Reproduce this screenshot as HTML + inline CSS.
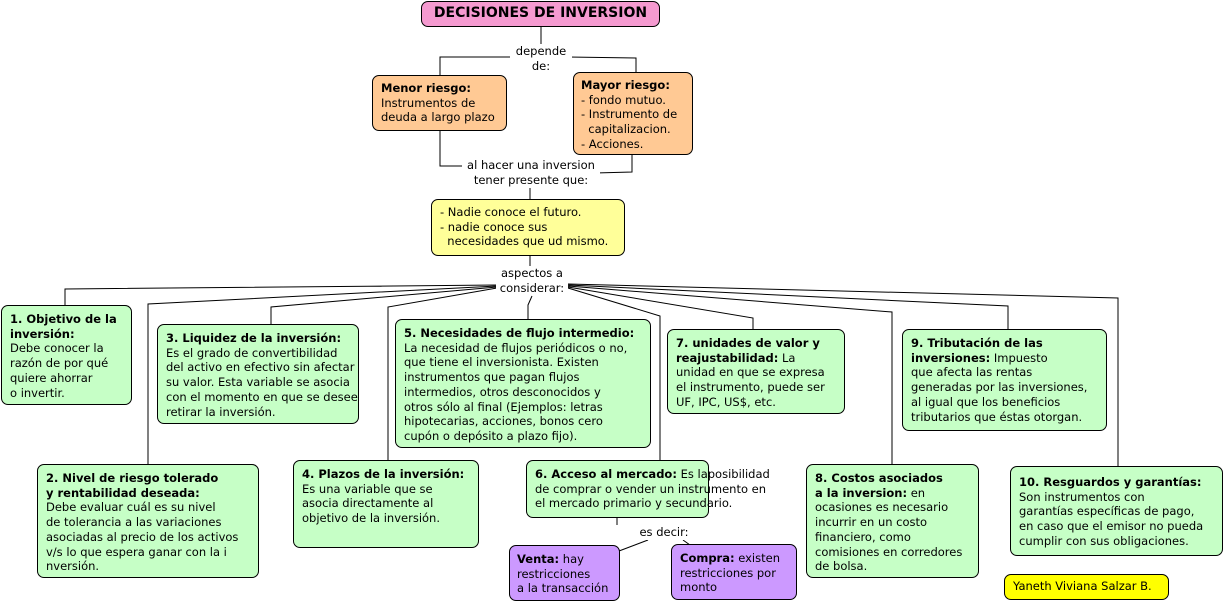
<!DOCTYPE html>
<html><head><meta charset="utf-8"><style>
body{margin:0;width:1226px;height:603px;background:#fff;position:relative;overflow:hidden;font-family:"DejaVu Sans","Liberation Sans",sans-serif;font-size:11.5px;line-height:14.7px;color:#000}
.b{position:absolute;box-sizing:border-box;border:1px solid #000;border-radius:7px;padding:6px 8px;background:#c6ffc6;white-space:nowrap}
.o{background:#ffc994}.y{background:#ffff99}.p{background:#cc99ff}
.t{position:absolute;text-align:center;background:#fff;white-space:nowrap}
b{font-weight:bold}
svg{position:absolute;left:0;top:0}
</style></head><body>
<svg width="1226" height="603" fill="none" stroke="#000" stroke-width="1">
<path d="M541 27V45"/>
<path d="M515 57H440V76M568 57L636 58V72"/>
<path d="M440 131V166H463M632 155V172L595 173"/>
<path d="M530 188V199M530 256V266"/>
<path d="M497 285L65 289V305M497 286L148 304V464M497 287L271 307V324M497 288L388 307V460M532 296L528 305V319"/>
<path d="M568 284L1118 298V466M568 285L1008 306V329M568 286L892 312V464M568 287L753 318V329M568 288L660 316V460"/>
<path d="M617 517V525M619 551L648 540M683 540L690 545"/>
</svg>
<div class="b" style="left:421px;top:1px;width:239px;height:26px;background:#f59ad0;font-weight:bold;font-size:14px;text-align:center;padding:4px 0">DECISIONES DE INVERSION</div>
<div class="t" style="left:510px;top:44px;width:62px">depende<br>de:</div>
<div class="b o" style="left:372px;top:75px;width:135px;height:56px;padding:5px 8px"><b>Menor riesgo:</b><br>Instrumentos de<br>deuda a largo plazo</div>
<div class="b o" style="left:573px;top:72px;width:120px;height:83px;padding:5px 7px"><b>Mayor riesgo:</b><br>- fondo mutuo.<br>- Instrumento de<br>&nbsp; capitalizacion.<br>- Acciones.</div>
<div class="t" style="left:462px;top:158px;width:138px">al hacer una inversion<br>tener presente que:</div>
<div class="b y" style="left:431px;top:199px;width:194px;height:57px;padding:5px 8px">- Nadie conoce el futuro.<br>- nadie conoce sus<br>&nbsp; necesidades que ud mismo.</div>
<div class="t" style="left:496px;top:266px;width:72px">aspectos a<br>considerar:</div>
<div class="b" style="left:1px;top:305px;width:131px;height:100px"><b>1. Objetivo de la<br>inversión:</b><br>Debe conocer la<br>razón de por qué<br>quiere ahorrar<br>o invertir.</div>
<div class="b" style="left:157px;top:324px;width:202px;height:100px"><b>3. Liquidez de la inversión:</b><br>Es el grado de convertibilidad<br>del activo en efectivo sin afectar<br>su valor. Esta variable se asocia<br>con el momento en que se desee<br>retirar la inversión.</div>
<div class="b" style="left:395px;top:319px;width:256px;height:129px"><b>5. Necesidades de flujo intermedio:</b><br>La necesidad de flujos periódicos o no,<br>que tiene el inversionista. Existen<br>instrumentos que pagan flujos<br>intermedios, otros desconocidos y<br>otros sólo al final (Ejemplos: letras<br>hipotecarias, acciones, bonos cero<br>cupón o depósito a plazo fijo).</div>
<div class="b" style="left:667px;top:329px;width:178px;height:85px"><b>7. unidades de valor y<br>reajustabilidad:</b> La<br>unidad en que se expresa<br>el instrumento, puede ser<br>UF, IPC, US$, etc.</div>
<div class="b" style="left:902px;top:329px;width:205px;height:102px"><b>9. Tributación de las<br>inversiones:</b> Impuesto<br>que afecta las rentas<br>generadas por las inversiones,<br>al igual que los beneficios<br>tributarios que éstas otorgan.</div>
<div class="b" style="left:37px;top:464px;width:222px;height:114px"><b>2. Nivel de riesgo tolerado<br>y rentabilidad deseada:</b><br>Debe evaluar cuál es su nivel<br>de tolerancia a las variaciones<br>asociadas al precio de los activos<br>v/s lo que espera ganar con la i<br>nversión.</div>
<div class="b" style="left:293px;top:460px;width:186px;height:88px"><b>4. Plazos de la inversión:</b><br>Es una variable que se<br>asocia directamente al<br>objetivo de la inversión.</div>
<div class="b" style="left:526px;top:460px;width:183px;height:58px"><b>6. Acceso al mercado:</b> Es laposibilidad<br>de comprar o vender un instrumento en<br>el mercado primario y secundario.</div>
<div class="t" style="left:636px;top:525px;width:56px">es decir:</div>
<div class="b p" style="left:509px;top:545px;width:111px;height:56px;padding:6px 7px"><b>Venta:</b> hay<br>restricciones<br>a la transacción</div>
<div class="b p" style="left:671px;top:544px;width:126px;height:56px;padding:6px 8px"><b>Compra:</b> existen<br>restricciones por<br>monto</div>
<div class="b" style="left:806px;top:464px;width:173px;height:114px"><b>8. Costos asociados<br>a la inversion:</b> en<br>ocasiones es necesario<br>incurrir en un costo<br>financiero, como<br>comisiones en corredores<br>de bolsa.</div>
<div class="b" style="left:1010px;top:466px;width:213px;height:90px;padding:8px 8px"><b>10. Resguardos y garantías:</b><br>Son instrumentos con<br>garantías específicas de pago,<br>en caso que el emisor no pueda<br>cumplir con sus obligaciones.</div>
<div class="b" style="left:1004px;top:574px;width:165px;height:26px;background:#ffff00;padding:4px 8px">Yaneth Viviana Salzar B.</div>
</body></html>
